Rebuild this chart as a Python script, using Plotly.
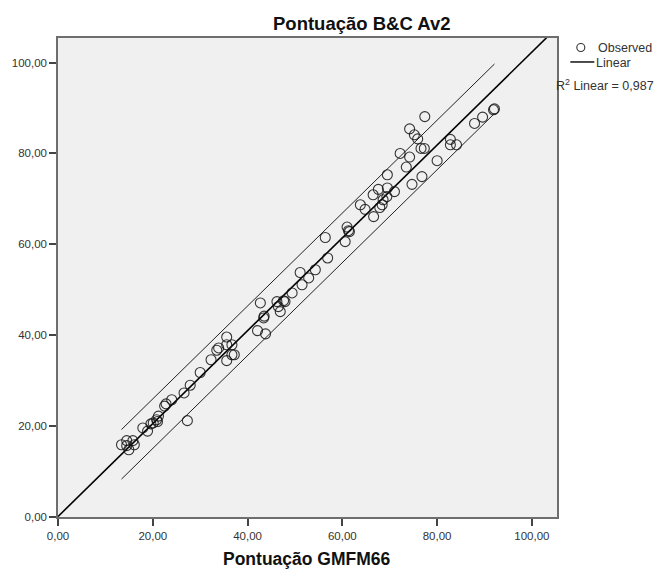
import plotly.graph_objects as go
import numpy as np

# Observed data (Pontuação GMFM66 vs Pontuação B&C Av2)
gmfm66 = [13.4, 14.5, 14.5, 14.95, 15.8, 16.1, 17.9, 18.9, 19.6, 20.1, 20.8, 21.2, 21.0,
          22.5, 22.8, 24.0, 26.6, 27.9, 27.3, 30.0, 32.3, 33.5, 33.9, 35.6, 35.6, 35.6,
          36.7, 36.7, 37.2, 42.7, 42.1, 43.4, 43.5, 43.8, 46.2, 46.5, 46.9, 47.6, 47.9,
          49.4, 51.1, 51.5, 52.9, 54.3, 56.4, 56.9, 60.6, 61.0, 61.3, 61.5, 63.8, 64.8,
          66.5, 66.6, 67.6, 67.9, 68.4, 68.6, 69.5, 69.5, 69.4, 71.0, 72.2, 73.5, 74.2,
          74.7, 77.4, 74.2, 75.2, 75.9, 76.6, 77.3, 80.0, 76.8, 82.8, 82.8, 84.1, 87.9,
          89.6, 92.1, 91.9]
bc_av2 = [15.9, 16.8, 15.7, 14.8, 16.8, 15.9, 19.6, 18.9, 20.5, 20.7, 21.4, 22.2, 21.0,
          24.4, 24.9, 25.8, 27.3, 29.0, 21.2, 31.8, 34.6, 36.7, 37.2, 39.6, 37.9, 34.4,
          37.9, 35.7, 35.7, 47.1, 41.0, 43.8, 44.2, 40.3, 47.4, 46.3, 45.2, 47.6, 47.4,
          49.3, 53.8, 51.1, 52.6, 54.4, 61.5, 57.0, 60.6, 63.8, 63.0, 62.8, 68.7, 67.7,
          70.9, 66.1, 72.1, 68.1, 68.7, 69.8, 72.4, 75.3, 70.5, 71.6, 80.0, 77.0, 79.2,
          73.2, 88.1, 85.4, 84.1, 83.2, 81.1, 81.1, 78.4, 74.9, 83.1, 81.9, 81.9, 86.6,
          88.0, 89.8, 89.6]

# Fit line and prediction band
fit_slope = 1.022
fit_intercept = 0.1
band_half_width = 5.45
r2_text = "R<sup>2</sup> Linear = 0,987"

x_range = [0, 105.3]
y_range = [0, 105.4]
tick_vals = [0, 20, 40, 60, 80, 100]

font_family = "Liberation Sans, Arial, sans-serif"

fig = go.Figure()

# fit line over full axis range
fx = np.array(x_range)
fig.add_trace(go.Scatter(x=fx, y=fit_slope * fx + fit_intercept, mode="lines",
                         line=dict(color="black", width=1.6), showlegend=False,
                         hoverinfo="skip"))
# prediction band over data range
bx = np.array([min(gmfm66), max(gmfm66)])
for sgn in (1, -1):
    fig.add_trace(go.Scatter(x=bx, y=fit_slope * bx + fit_intercept + sgn * band_half_width,
                             mode="lines", line=dict(color="#222", width=1),
                             showlegend=False, hoverinfo="skip"))

fig.add_trace(go.Scatter(x=gmfm66, y=bc_av2, mode="markers",
                         marker=dict(symbol="circle-open", size=10,
                                     color="rgba(20,20,20,0.85)",
                                     line=dict(width=1.1)),
                         showlegend=False))

L, R, T, B = 58, 99.3, 38, 54.5
W, H = 656, 572
pw = W - L - R
ph = H - T - B

def px_x(p):
    return (p - L) / pw

def px_y(p):
    return (H - B - p) / ph

axis_common = dict(showgrid=False, zeroline=False, showline=True, mirror=True,
                   linecolor="#6e6e6e", linewidth=1.5, ticks="outside", ticklen=7,
                   tickcolor="#444", tickwidth=1.5, tickformat=".2f",
                   tickvals=tick_vals,
                   tickfont=dict(family=font_family, size=11.5, color="#333"))

fig.update_layout(
    width=W, height=H, margin=dict(l=L, r=R, t=T, b=B),
    paper_bgcolor="white", plot_bgcolor="#f0f0f0",
    separators=",.",
    xaxis=dict(range=x_range, **axis_common),
    yaxis=dict(range=y_range, **axis_common),
    font=dict(family=font_family),
)

annotations = [
    dict(text="<b>Pontuação B&C Av2</b>", x=px_x(362), y=px_y(23), xref="paper", yref="paper",
         showarrow=False, font=dict(size=18.5, color="#111", family=font_family),
         xanchor="center", yanchor="middle"),
    dict(text="<b>Pontuação GMFM66</b>", x=px_x(307), y=px_y(560), xref="paper", yref="paper",
         showarrow=False, font=dict(size=17.5, color="#111", family=font_family),
         xanchor="center", yanchor="middle"),
    dict(text="Observed", x=px_x(596), y=px_y(48), xref="paper", yref="paper",
         showarrow=False, font=dict(size=12.5, color="#333", family=font_family),
         xanchor="left", yanchor="middle"),
    dict(text="Linear", x=px_x(594), y=px_y(63), xref="paper", yref="paper",
         showarrow=False, font=dict(size=12.5, color="#333", family=font_family),
         xanchor="left", yanchor="middle"),
    dict(text=r2_text, x=px_x(554), y=px_y(85), xref="paper", yref="paper",
         showarrow=False, font=dict(size=12.5, color="#333", family=font_family),
         xanchor="left", yanchor="middle"),
]
fig.update_layout(annotations=annotations)

fig.add_shape(type="circle", xref="paper", yref="paper", xsizemode="pixel", ysizemode="pixel",
              xanchor=px_x(580.5), yanchor=px_y(47.5), x0=-4, x1=4, y0=-4, y1=4,
              line=dict(color="#333", width=1.1))
fig.add_shape(type="line", xref="paper", yref="paper",
              x0=px_x(570), x1=px_x(594), y0=px_y(62), y1=px_y(62),
              line=dict(color="#111", width=1.5))

fig.write_html("out.html")
